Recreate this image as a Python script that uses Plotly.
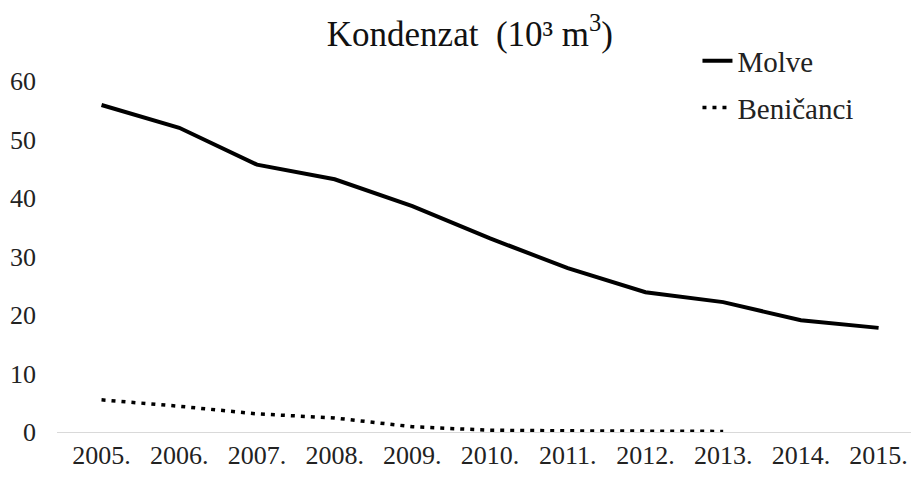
import plotly.graph_objects as go

years = ["2005.", "2006.", "2007.", "2008.", "2009.", "2010.",
         "2011.", "2012.", "2013.", "2014.", "2015."]
molve = [55.9, 52.0, 45.7, 43.2, 38.6, 33.1, 28.0, 23.9, 22.2, 19.1, 17.8]
benicanci_years = years[:9]
benicanci = [5.5, 4.4, 3.1, 2.4, 0.9, 0.3, 0.2, 0.1, 0.1]

FONT = "Liberation Serif"

fig = go.Figure()
fig.add_trace(go.Scatter(x=years, y=molve, name="Molve", mode="lines",
                         line=dict(color="black", width=4), legendgroup="a"))
fig.add_trace(go.Scatter(x=benicanci_years, y=benicanci, name="Beničanci", mode="lines",
                         line=dict(color="black", width=3.5, dash="4px,6px"), legendgroup="b"))

# page body adds an 8px offset, so the figure is drawn 8px smaller
fig.update_layout(
    width=911, height=469,
    paper_bgcolor="white", plot_bgcolor="white",
    margin=dict(l=49, r=0, t=73, b=45),
    font=dict(family=FONT, color="#222", size=26),
    title=dict(text="Kondenzat  (10³ m<sup>3</sup>)", x=0.507, xanchor="center",
               y=0.945, yanchor="middle", font=dict(family=FONT, size=35, color="#111")),
    legend=dict(x=0.743, y=1.13, xanchor="left", yanchor="top",
                font=dict(family=FONT, size=29, color="#222"),
                bgcolor="rgba(0,0,0,0)", tracegroupgap=6, traceorder="grouped"),
    showlegend=True,
)
fig.update_xaxes(showgrid=False, showline=True, linecolor="#d9d9d9", linewidth=1,
                 ticks="", tickfont=dict(size=26), zeroline=False,
                 range=[-0.573, 10.52])
fig.update_yaxes(showgrid=False, showline=False, zeroline=False, range=[0, 60],
                 tickvals=[0, 10, 20, 30, 40, 50, 60], ticks="",
                 ticklabelstandoff=20, tickfont=dict(size=26))

fig.write_html("out.html")
